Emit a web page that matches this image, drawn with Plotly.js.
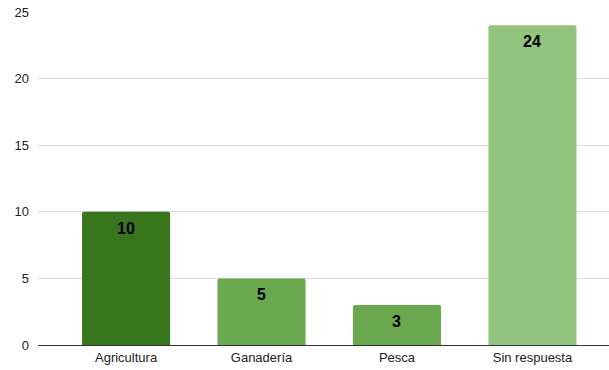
<!DOCTYPE html>
<html>
<head>
<meta charset="utf-8">
<script src="https://cdn.plot.ly/plotly-3.0.1.min.js"></script>
<style>html,body{margin:0;padding:0;background:#fff;}#chart{width:609px;height:370px;}</style>
</head>
<body>
<div id="chart"></div>
<script>
const categories = ["Agricultura", "Ganadería", "Pesca", "Sin respuesta"];
const values = [10, 5, 3, 24];
const barColors = ["#38761d", "#6aa84f", "#6aa84f", "#93c47d"];
const yTicks = [0, 5, 10, 15, 20, 25];

const trace = {
  type: "bar",
  x: [0, 1, 2, 3],
  y: values,
  width: 0.65,
  marker: {color: barColors, cornerradius: 2, line: {width: 0}},
  hoverinfo: "none"
};

const annotations = values.map((v, i) => ({
  x: i, y: v, xref: "x", yref: "y",
  text: String(v), showarrow: false,
  yanchor: "top", yshift: -6,
  font: {family: "Liberation Sans, Arial, sans-serif", size: 16, color: "#000", weight: "bold"}
}));

const layout = {
  width: 609, height: 370,
  margin: {l: 38, r: 0, t: 12, b: 25, pad: 0},
  paper_bgcolor: "#fff", plot_bgcolor: "#fff",
  showlegend: false,
  font: {family: "Liberation Sans, Arial, sans-serif", size: 13, color: "#222"},
  annotations: annotations,
  xaxis: {
    range: [-0.65, 3.565],
    tickvals: [0, 1, 2, 3],
    ticktext: categories,
    showgrid: false, zeroline: false,
    showline: false,
    ticks: "", ticklen: 0,
    ticklabelstandoff: 3,
    tickfont: {size: 13, color: "#222"},
    fixedrange: true
  },
  yaxis: {
    range: [0, 25],
    tickvals: yTicks,
    showgrid: true, gridcolor: "#d9d9d9", gridwidth: 1,
    zeroline: true, zerolinecolor: "#333", zerolinewidth: 1,
    showline: false, ticks: "",
    ticklabelstandoff: 8,
    tickfont: {size: 13, color: "#222"},
    fixedrange: true
  }
};

Plotly.newPlot("chart", [trace], layout, {displayModeBar: false, staticPlot: true});
</script>
</body>
</html>
